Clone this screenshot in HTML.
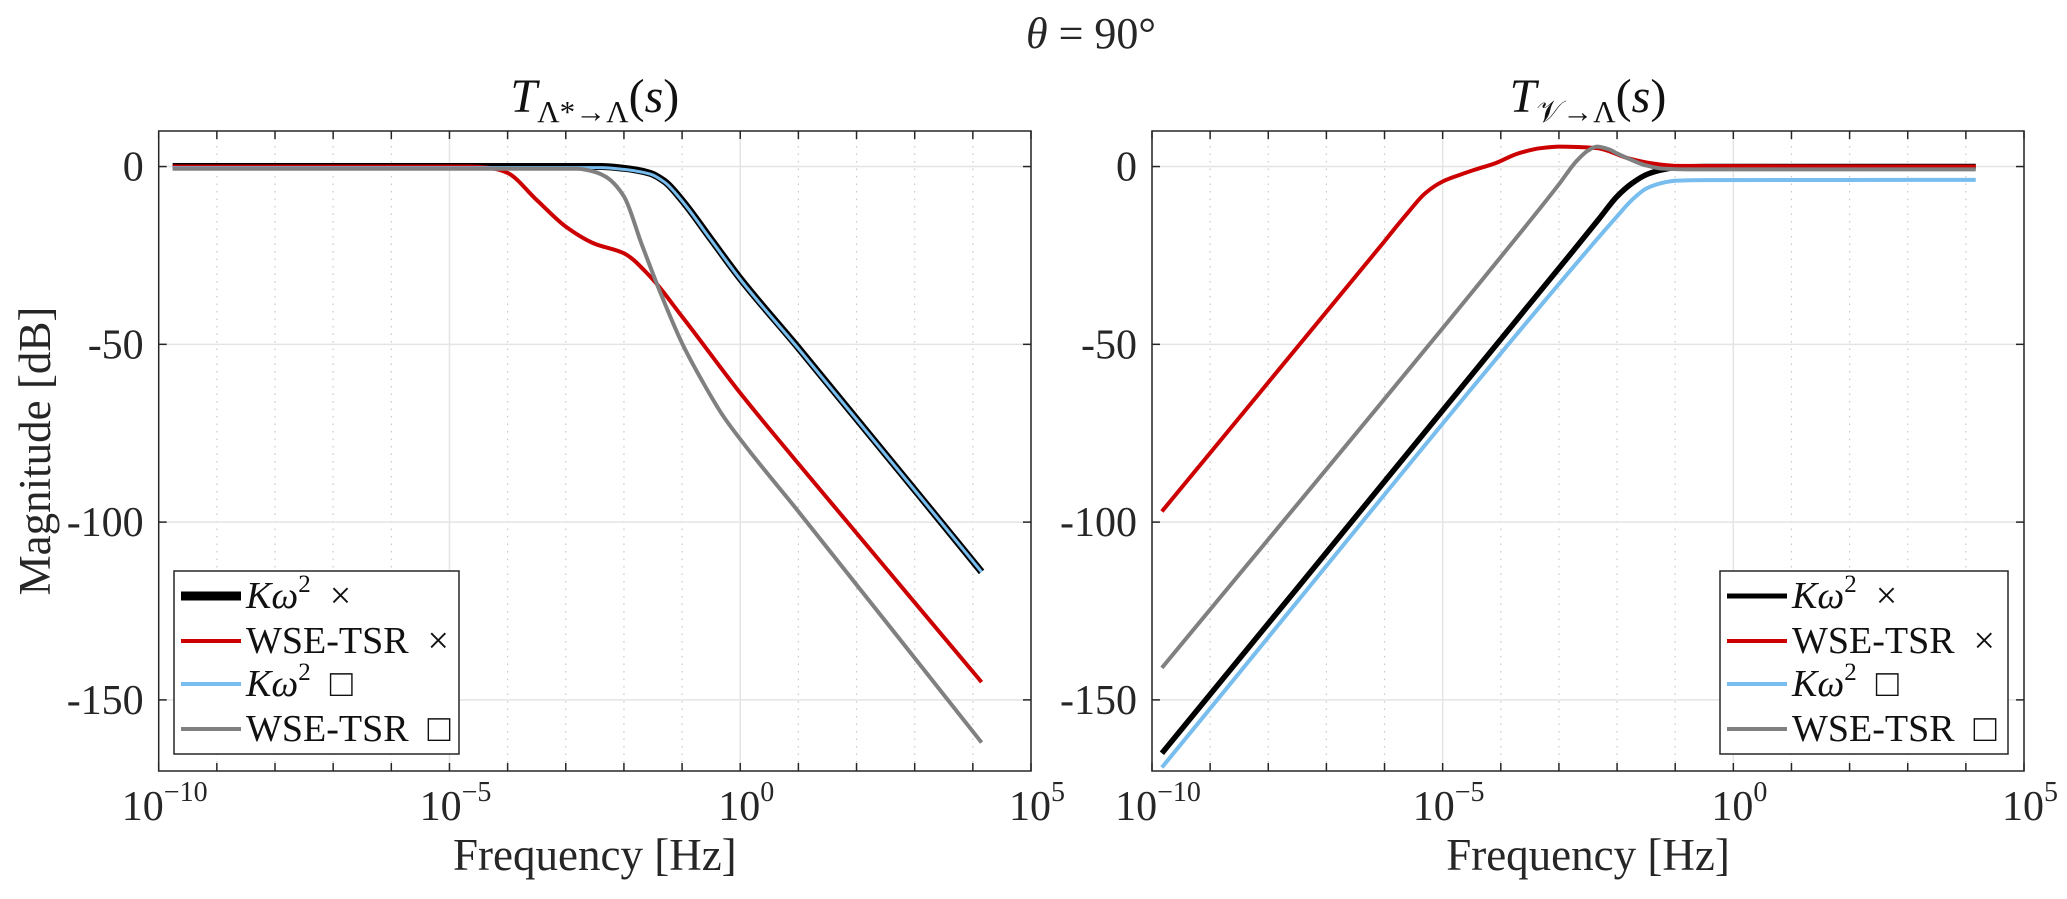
<!DOCTYPE html>
<html><head><meta charset="utf-8">
<style>
html,body{margin:0;padding:0;background:#fff;}
svg{display:block;font-family:"Liberation Serif","DejaVu Serif",serif;}
</style></head>
<body>
<svg id="fig" width="2067" height="899" viewBox="0 0 2067 899" xmlns="http://www.w3.org/2000/svg">
<rect x="0" y="0" width="2067" height="899" fill="#fff"/>
<text x="1091" y="48" font-size="44" text-anchor="middle" fill="#262626"><tspan font-style="italic">θ</tspan> = 90°</text>
<g id="left"></g>
<g id="right"></g>
</svg>
<script>
// ---- data (log10 frequency, magnitude dB) ----
const yTicks = [0, -50, -100, -150];
const yTickLabels = ["0", "-50", "-100", "-150"];
const xTickExps = [-10, -5, 0, 5];
const legendLabels = ["Kω2 ×", "WSE-TSR ×", "Kω2 □", "WSE-TSR □"];

const L_black_x = [-9.76, -2.4, -2.0, -1.55, -1.3, -1, -0.5, 0, 1, 4.15];
const L_black_y = [0, 0, -0.5, -1.9, -4.2, -9.5, -20.5, -31.5, -51, -114];
const L_red_x = [-9.76, -4.7, -4.45, -4.2, -4, -3.5, -3, -2.52, -2, -1.55, -1, 0, 0.92, 4.15];
const L_red_y = [0, 0, -0.15, -0.7, -1.8, -9.4, -16.9, -21.6, -24.4, -30.9, -42.2, -63.7, -82, -145];
const L_blue_x = [-9.76, -2.4, -2.0, -1.55, -1.3, -1, -0.5, 0, 1, 4.15];
const L_blue_y = [-0.3, -0.3, -0.8, -2.1, -4.4, -9.7, -20.7, -31.7, -51.2, -114];
const L_gray_x = [-9.76, -2.8, -2.5, -2.3, -2, -1.7, -1.37, -1, -0.63, -0.3, 0.086, 1, 4.15];
const L_gray_y = [-0.6, -0.6, -1.5, -3, -8.4, -21.6, -35.6, -49.7, -61, -70, -78.5, -97, -162];

const R_black_x = [-9.83, -2.74, -2.3, -2, -1.75, -1.5, -1.25, -1, -0.5, 4.17];
const R_black_y = [-165, -23.4, -14.5, -8.4, -4.8, -2.3, -1, -0.3, 0, 0];
const R_red_x = [-9.83, -6.1, -5.6, -5.3, -5, -4.7, -4.45, -4.1, -3.7, -3.3, -3, -2.35, -1.8, -1.4, -1, 4.17];
const R_red_y = [-97, -23, -13, -7.5, -4.2, -2.3, -0.9, 0.9, 3.7, 5.2, 5.6, 5.2, 2.3, 0.9, 0.2, 0];
const R_blue_x = [-9.83, -2.5, -2, -1.75, -1.5, -1.25, -1, -0.5, 4.17];
const R_blue_y = [-169, -23.4, -14, -9.5, -6.2, -4.7, -4, -3.8, -3.75];
const R_gray_x = [-9.83, -3.9, -3.0, -2.7, -2.5, -2.35, -2.15, -2, -1.7, -1.5, -1.2, -0.8, 4.17];
const R_gray_y = [-141, -23.4, -5, 1.5, 4.5, 5.6, 4.9, 3.7, 1.5, 0.3, -0.6, -0.8, -0.8];

const NS = "http://www.w3.org/2000/svg";
function mk(tag, attrs, parent){const e=document.createElementNS(NS,tag);for(const k in attrs)e.setAttribute(k,attrs[k]);if(parent)parent.appendChild(e);return e;}

function monoPath(xs, ys, sx, sy){
  const n=xs.length, d=[], m=new Array(n);
  for(let i=0;i<n-1;i++) d.push((ys[i+1]-ys[i])/(xs[i+1]-xs[i]));
  m[0]=d[0]; m[n-1]=d[n-2];
  for(let i=1;i<n-1;i++){
    if(d[i-1]*d[i]<=0) m[i]=0;
    else { const w1=2*(xs[i+1]-xs[i])+(xs[i]-xs[i-1]), w2=(xs[i+1]-xs[i])+2*(xs[i]-xs[i-1]);
      m[i]=(w1+w2)/(w1/d[i-1]+w2/d[i]); }
  }
  let p="M"+sx(xs[0]).toFixed(2)+","+sy(ys[0]).toFixed(2);
  for(let i=0;i<n-1;i++){
    const h=xs[i+1]-xs[i];
    const c1x=xs[i]+h/3, c1y=ys[i]+m[i]*h/3, c2x=xs[i+1]-h/3, c2y=ys[i+1]-m[i+1]*h/3;
    p+=" C"+sx(c1x).toFixed(2)+","+sy(c1y).toFixed(2)+" "+sx(c2x).toFixed(2)+","+sy(c2y).toFixed(2)+" "+sx(xs[i+1]).toFixed(2)+","+sy(ys[i+1]).toFixed(2);
  }
  return p;
}

function panel(g, x0, x1, opts){
  const top=131, bot=771, yMin=-170, yMax=10, xMin=-10, xMax=5;
  const sx = v => x0 + (v - xMin)/(xMax - xMin)*(x1 - x0);
  const sy = v => top + (yMax - v)/(yMax - yMin)*(bot - top);
  for(let e=xMin;e<=xMax;e++){
    const major = xTickExps.includes(e);
    const gl = mk("line",{x1:sx(e),x2:sx(e),y1:top,y2:bot,stroke:major?"#e4e4e4":"#c8c8c8","stroke-width":major?1.5:1.2,"stroke-dasharray":major?"":"1.5,6"},g);
    
    
  }
  yTicks.forEach(v=>{
    const gl = mk("line",{x1:x0,x2:x1,y1:sy(v),y2:sy(v),stroke:"#e4e4e4","stroke-width":1.5},g);
    
    
  });
  const series = opts.series;
  series.forEach(s=>{
    const p = mk("path",{d:monoPath(s.x,s.y,sx,sy),fill:"none",stroke:s.color,"stroke-width":s.w,"stroke-linejoin":"round"},g);
    
    
  });
  const box = mk("rect",{x:x0,y:top,width:x1-x0,height:bot-top,fill:"none",stroke:"#262626","stroke-width":1.5},g);
  
  
  for(let e=xMin;e<=xMax;e++){
    mk("line",{x1:sx(e),x2:sx(e),y1:top,y2:top+8,stroke:"#262626","stroke-width":1.5},g);
    mk("line",{x1:sx(e),x2:sx(e),y1:bot,y2:bot-8,stroke:"#262626","stroke-width":1.5},g);
  }
  yTicks.forEach((v,i)=>{
    mk("line",{x1:x0,x2:x0+8,y1:sy(v),y2:sy(v),stroke:"#262626","stroke-width":1.5},g);
    mk("line",{x1:x1,x2:x1-8,y1:sy(v),y2:sy(v),stroke:"#262626","stroke-width":1.5},g);
    const t = mk("text",{x:x0-15,y:sy(v)+14,"font-size":42,"text-anchor":"end",fill:"#262626"},g);
    t.textContent = yTickLabels[i];
    
    
  });
  xTickExps.forEach(e=>{
    const t = mk("text",{x:sx(e)+6,y:820,"font-size":42,"text-anchor":"middle",fill:"#262626"},g);
    
    
    const a = mk("tspan",{},t); a.textContent="10";
    const b = mk("tspan",{"font-size":28,dy:-19}, t); b.textContent = e<0 ? "−"+(-e) : String(e);
  });
  const xl = mk("text",{x:(x0+x1)/2,y:870,"font-size":45,"text-anchor":"middle",fill:"#262626"},g);
  xl.textContent="Frequency [Hz]";
  
  
  const tt = mk("text",{x:(x0+x1)/2,y:112,"font-size":48,"text-anchor":"middle",fill:"#111"},g);
  
  
  const t1 = mk("tspan",{"font-style":"italic"},tt); t1.textContent="T";
  const t2 = mk("tspan",{"font-size":31,dy:10},tt); t2.textContent=opts.sub;
  const t3 = mk("tspan",{dy:-10},tt); t3.textContent="(";
  const t4 = mk("tspan",{"font-style":"italic"},tt); t4.textContent="s";
  const t5 = mk("tspan",{},tt); t5.textContent=")";
  const lx=opts.lx, lw=opts.lw, ly=571, lh=183;
  const lg = mk("g",{},g);
  
  
  mk("rect",{x:lx,y:ly,width:lw,height:lh,fill:"#fff",stroke:"#262626","stroke-width":1.5},lg);
  const rows=[596,641,684,729];
  series.forEach((s,i)=>{
    const l = mk("line",{x1:lx+7,x2:lx+67,y1:rows[i],y2:rows[i],stroke:s.color,"stroke-width":s.lw},lg);
    
    
    const t = mk("text",{x:lx+72,y:rows[i]+12,"font-size":38,fill:"#111"},lg);
    
    
    const lab = legendLabels[s.li];
    if(lab.startsWith("Kω2")){
      const a=mk("tspan",{"font-style":"italic"},t); a.textContent="Kω";
      const b=mk("tspan",{"font-size":25,dy:-16},t); b.textContent="2";
      const c=mk("tspan",{dy:16},t); c.textContent=lab.slice(3).replace(" ","\u2002");
    } else {
      t.textContent = lab.replace(" ","\u2002");
    }
  });
}

const LS = [
  {name:"kw2-cross-line", x:L_black_x, y:L_black_y, color:"#000", w:7, lw:9, li:0},
  {name:"wse-tsr-cross-line", x:L_red_x, y:L_red_y, color:"#cc0000", w:4, lw:4, li:1},
  {name:"kw2-square-line", x:L_blue_x, y:L_blue_y, color:"#77bdee", w:3, lw:4, li:2},
  {name:"wse-tsr-square-line", x:L_gray_x, y:L_gray_y, color:"#808080", w:4, lw:4, li:3}
];
const RS = [
  {name:"kw2-cross-line", x:R_black_x, y:R_black_y, color:"#000", w:5.5, lw:5, li:0},
  {name:"wse-tsr-cross-line", x:R_red_x, y:R_red_y, color:"#cc0000", w:4, lw:4, li:1},
  {name:"kw2-square-line", x:R_blue_x, y:R_blue_y, color:"#77bdee", w:4, lw:4, li:2},
  {name:"wse-tsr-square-line", x:R_gray_x, y:R_gray_y, color:"#808080", w:4, lw:4, li:3}
];
panel(document.getElementById("left"), 158.7, 1031, {series:LS, sub:"Λ*→Λ", lx:174, lw:285});
panel(document.getElementById("right"), 1152, 2024, {series:RS, sub:"𝒱→Λ", lx:1720, lw:288});

const yl = document.createElementNS(NS,"text");
yl.setAttribute("x","0");yl.setAttribute("y","0");
yl.setAttribute("font-size","45");yl.setAttribute("text-anchor","middle");yl.setAttribute("fill","#262626");
yl.setAttribute("transform","translate(50,451) rotate(-90)");
yl.textContent="Magnitude [dB]";


document.getElementById("fig").appendChild(yl);
</script>
</body></html>
